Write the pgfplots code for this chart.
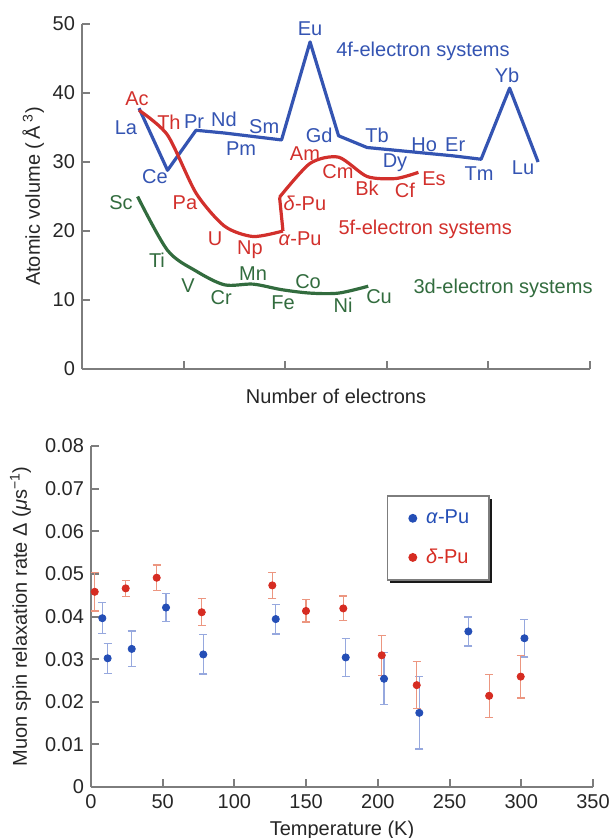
\documentclass[border=0pt]{standalone}
\usepackage{fontspec}
\setmainfont{Liberation Sans}
\usepackage{pgfplots}
\pgfplotsset{compat=1.18}
\usetikzlibrary{shadows}

\definecolor{fblue}{RGB}{52,84,178}
\definecolor{fred}{RGB}{210,48,44}
\definecolor{fgreen}{RGB}{50,108,62}
\definecolor{axgray}{RGB}{125,125,125}
\definecolor{mblue}{RGB}{36,78,182}
\definecolor{mred}{RGB}{214,44,34}
\definecolor{eblue}{RGB}{150,168,222}
\definecolor{ered}{RGB}{236,150,128}

\pgfplotstableread{
T D E
7.9 0.0396 0.0036
11.6 0.0302 0.0035
28.4 0.0324 0.0042
52.3 0.0421 0.0033
78.3 0.0311 0.0046
128.8 0.0394 0.0035
177.6 0.0304 0.0045
204.3 0.0254 0.0061
228.9 0.0174 0.0085
263.1 0.0365 0.0034
302.2 0.0349 0.0044
}\alphapu

\pgfplotstableread{
T D E
2.6 0.0458 0.0045
24.2 0.0466 0.0019
45.8 0.0491 0.0030
77.2 0.0410 0.0032
126.4 0.0473 0.0030
149.9 0.0413 0.0026
175.9 0.0419 0.0029
202.7 0.0309 0.0047
227.1 0.0239 0.0055
277.6 0.0214 0.0050
299.6 0.0259 0.0050
}\deltapu

\pgfplotsset{
  panel/.style={
    scale only axis, clip=false,
    axis lines=left,
    axis line style={-, draw=axgray, line width=1.4pt},
    tick align=inside, major tick length=4pt,
    tick style={draw=axgray, line width=1pt},
    tick label style={font=\fontsize{10}{12}\selectfont, text=black!85},
    label style={font=\fontsize{10}{12}\selectfont, text=black!85},
    /pgf/number format/assume math mode=true,
  },
}
\tikzset{lab/.style={font=\fontsize{10}{12}\selectfont, inner sep=0pt, text height=7.2pt, text depth=0pt, anchor=center}}

\begin{document}
\begin{tikzpicture}
\path[use as bounding box] (0pt,0pt) rectangle (306.5pt,-419pt);

% top panel: atomic volumes
\begin{axis}[panel,
  at={(41pt,-184.5pt)}, anchor=south west,
  width=254pt, height=172.5pt,
  xmin=0, xmax=17.82, ymin=0, ymax=50,
  xtick={3.564,7.128,10.692,14.256,17.82}, xticklabels={},
  ytick={0,10,20,30,40,50},
  xlabel={Number of electrons},
  xlabel style={at={(axis description cs:0.5,0)}, anchor=base, yshift=-17pt},
  ylabel={Atomic volume (\,Å\,\textsuperscript{3})},
  ylabel style={at={(axis description cs:-0.0827,0.5)}, anchor=base},
]
\addplot[fblue, line width=1.6pt, line join=round] coordinates {
  (2,37.8)(3,28.8)(4,34.6)(5,34.2)(6,33.7)(7,33.2)(8,47.4)(9,33.8)
  (10,32.1)(11,31.7)(12,31.3)(13,30.9)(14,30.4)(15,40.7)(16,30.0)};
\addplot[fred, line width=1.6pt, smooth, tension=0.45] coordinates {
  (2,37.5)(3,33.9)(4,25.5)(5,20.7)(6,19.2)(7.05,20.0)};
\addplot[fred, line width=1.6pt] coordinates {(7.05,20.0)(6.93,24.9)};
\addplot[fred, line width=1.6pt, smooth, tension=0.45] coordinates {
  (6.93,24.9)(8,29.8)(9,30.7)(10,27.9)(11,27.6)(11.8,28.5)};
\addplot[fgreen, line width=1.6pt, smooth, tension=0.5] coordinates {
  (1.95,25.0)(3,17.2)(4,14.2)(5,12.2)(6,12.3)(7,11.5)(8,11.0)(9,11.0)(10.04,12.0)};

\node[lab, fblue] at (axis cs:1.54,35.1) {La};
\node[lab, fblue] at (axis cs:2.56,28.0) {Ce};
\node[lab, fblue] at (axis cs:3.93,35.9) {Pr};
\node[lab, fblue] at (axis cs:4.98,36.2) {Nd};
\node[lab, fblue] at (axis cs:5.58,32.0) {Pm};
\node[lab, fblue] at (axis cs:6.39,35.2) {Sm};
\node[lab, fblue] at (axis cs:8.0,49.4) {Eu};
\node[lab, fblue] at (axis cs:8.32,33.9) {Gd};
\node[lab, fblue] at (axis cs:10.35,33.8) {Tb};
\node[lab, fblue] at (axis cs:10.98,30.2) {Dy};
\node[lab, fblue] at (axis cs:12.0,32.6) {Ho};
\node[lab, fblue] at (axis cs:13.09,32.6) {Er};
\node[lab, fblue] at (axis cs:13.93,28.4) {Tm};
\node[lab, fblue] at (axis cs:14.91,42.6) {Yb};
\node[lab, fblue] at (axis cs:15.47,29.3) {Lu};
\node[lab, fblue] at (axis cs:11.96,46.4) {4f-electron systems};

\node[lab, fred] at (axis cs:1.93,39.3) {Ac};
\node[lab, fred] at (axis cs:3.05,35.7) {Th};
\node[lab, fred] at (axis cs:3.61,24.1) {Pa};
\node[lab, fred] at (axis cs:4.67,19.0) {U};
\node[lab, fred] at (axis cs:5.89,17.6) {Np};
\node[lab, fred] at (axis cs:7.65,18.9) {\textit{α}-Pu};
\node[lab, fred] at (axis cs:7.82,24.0) {\textit{δ}-Pu};
\node[lab, fred] at (axis cs:7.82,31.3) {Am};
\node[lab, fred] at (axis cs:8.98,28.7) {Cm};
\node[lab, fred] at (axis cs:10.0,26.2) {Bk};
\node[lab, fred] at (axis cs:11.33,25.9) {Cf};
\node[lab, fred] at (axis cs:12.35,27.7) {Es};
\node[lab, fred] at (axis cs:12.04,20.5) {5f-electron systems};

\node[lab, fgreen] at (axis cs:1.37,24.2) {Sc};
\node[lab, fgreen] at (axis cs:2.63,15.8) {Ti};
\node[lab, fgreen] at (axis cs:3.72,12.2) {V};
\node[lab, fgreen] at (axis cs:4.88,10.4) {Cr};
\node[lab, fgreen] at (axis cs:6.0,13.9) {Mn};
\node[lab, fgreen] at (axis cs:7.05,9.7) {Fe};
\node[lab, fgreen] at (axis cs:7.93,12.75) {Co};
\node[lab, fgreen] at (axis cs:9.16,9.2) {Ni};
\node[lab, fgreen] at (axis cs:10.42,10.6) {Cu};
\node[lab, fgreen] at (axis cs:14.77,12.0) {3d-electron systems};
\end{axis}

% bottom panel: muon spin relaxation
\begin{axis}[panel,
  at={(45.5pt,-393.5pt)}, anchor=south west,
  width=251pt, height=170.5pt,
  xmin=0, xmax=350, ymin=0, ymax=0.08,
  xtick={0,50,...,350},
  ytick={0,0.01,0.02,0.03,0.04,0.05,0.06,0.07,0.08},
  yticklabels={0,0.01,0.02,0.03,0.04,0.05,0.06,0.07,0.08},
  scaled y ticks=false,
  xlabel={Temperature (K)},
  xlabel style={at={(axis description cs:0.5,0)}, anchor=base, yshift=-24pt},
  ylabel={Muon spin relaxation rate Δ (\textit{μ}s\textsuperscript{−1})},
  ylabel style={at={(axis description cs:-0.1275,0.5)}, anchor=base},
  legend image code/.code={\path (0cm,0cm) (0.3cm,0cm); \draw[#1] plot coordinates {(0.15cm,0cm)};},
  legend cell align=left,
  legend style={at={(axis description cs:0.589,0.856)}, anchor=north west,
    draw=axgray, line width=0.8pt, fill=white,
    drop shadow={fill=black, opacity=0.9, shadow xshift=1.4pt, shadow yshift=-1.4pt},
    font=\fontsize{10}{12}\selectfont, inner xsep=8pt, inner ysep=5pt, row sep=7pt},
]
\addplot[only marks, mark=*, mark size=1.8pt, color=mblue,
  error bars/.cd, y dir=both, y explicit,
  error bar style={eblue, line width=0.6pt},
  error mark options={eblue, rotate=90, mark size=2pt, line width=0.6pt}]
  table[x=T, y=D, y error=E] {\alphapu};
\addlegendentry{\textcolor{mblue}{\textit{α}-Pu}}
\addplot[only marks, mark=*, mark size=1.8pt, color=mred,
  error bars/.cd, y dir=both, y explicit,
  error bar style={ered, line width=0.6pt},
  error mark options={ered, rotate=90, mark size=2pt, line width=0.6pt}]
  table[x=T, y=D, y error=E] {\deltapu};
\addlegendentry{\textcolor{mred}{\textit{δ}-Pu}}
\end{axis}
\end{tikzpicture}
\end{document}
